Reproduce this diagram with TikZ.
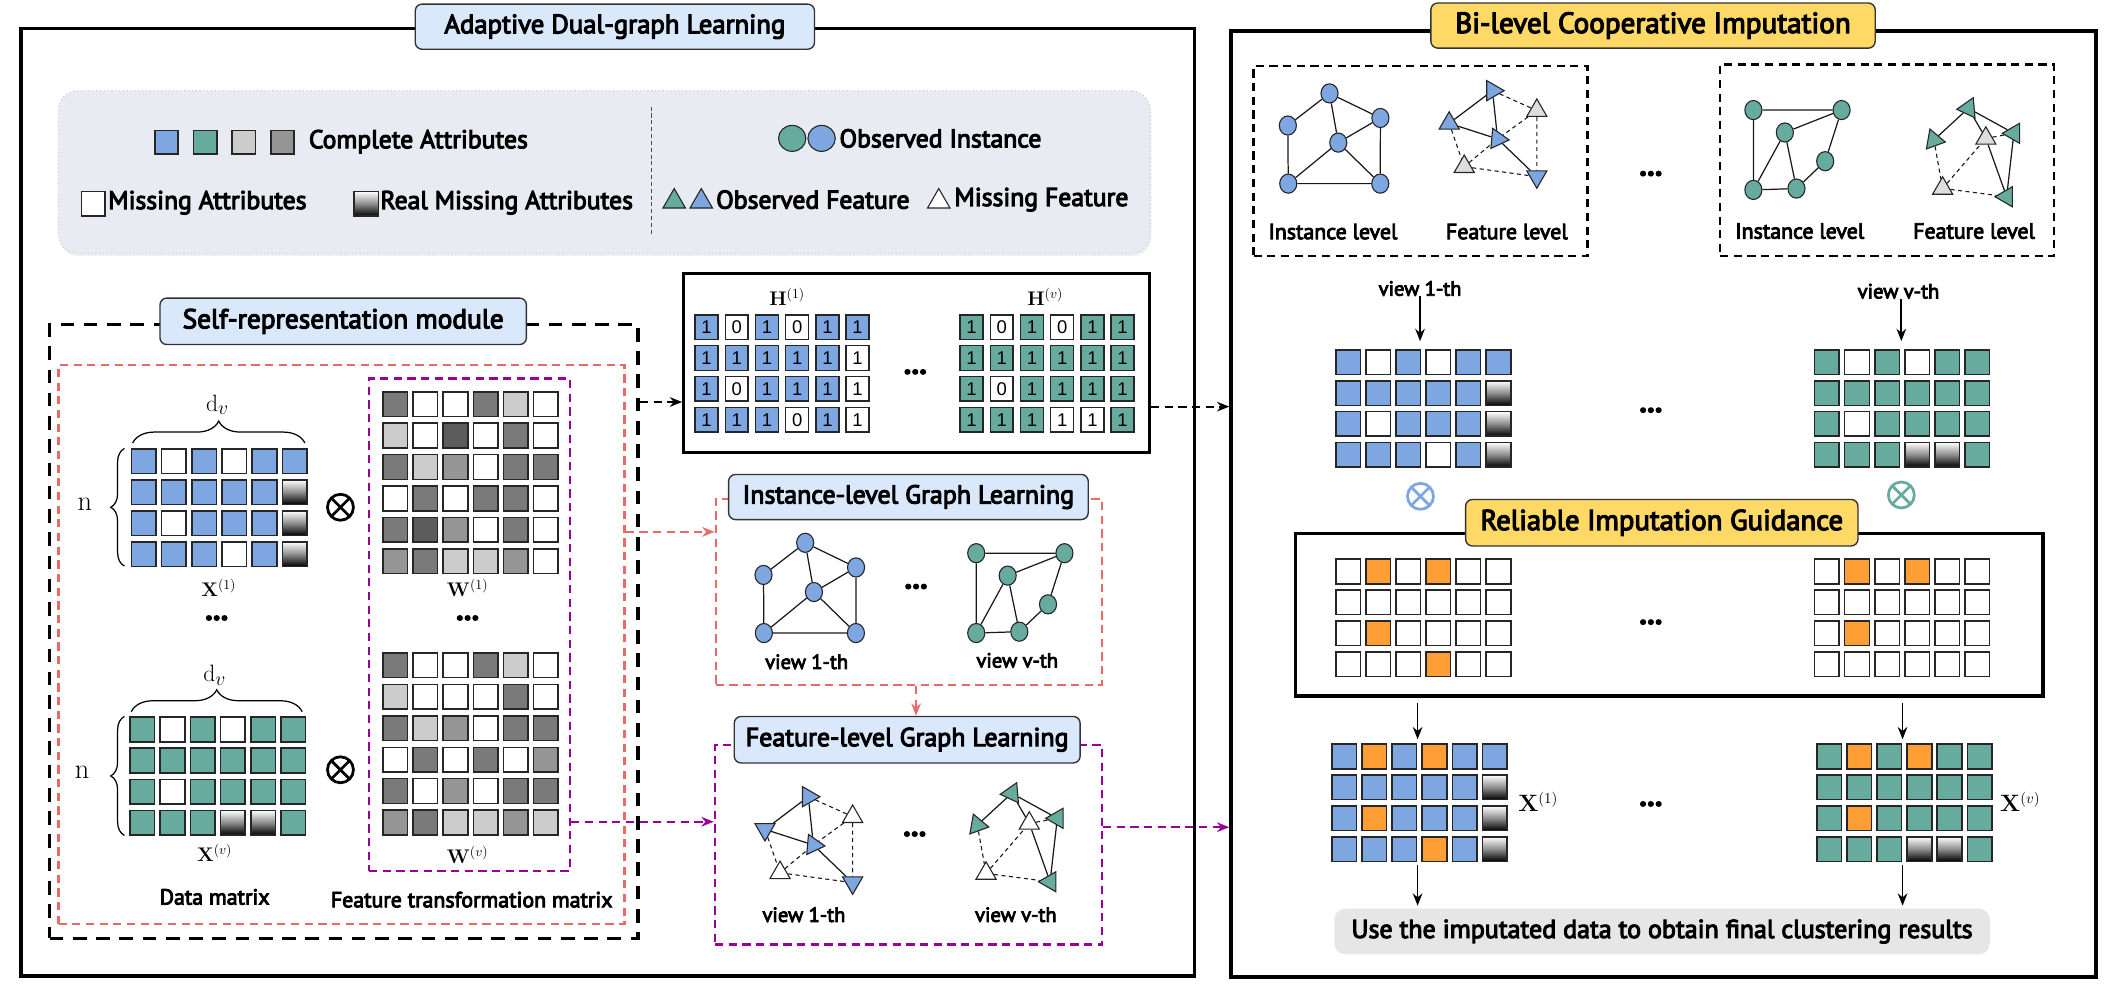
\documentclass[tikz,border=0pt]{standalone}
\usepackage[no-math]{fontspec}
\setmainfont{PT Sans}[FakeBold=4]
\newfontfamily\digitfont{Liberation Sans}
\usetikzlibrary{shapes.geometric,arrows.meta,decorations.pathreplacing,calc,shadows}
\definecolor{cblue}{HTML}{7EA6E0}
\definecolor{cgreen}{HTML}{67AB9F}
\definecolor{clgray}{HTML}{CCCCCC}
\definecolor{cmgray}{HTML}{959595}
\definecolor{cdgray}{HTML}{7A7A7A}
\definecolor{cddgray}{HTML}{5C5C5C}
\definecolor{corange}{HTML}{FF9E35}
\definecolor{ctblue}{HTML}{DAE8FC}
\definecolor{cgold}{HTML}{FFD966}
\definecolor{cred}{HTML}{EA6B66}
\definecolor{cpurple}{HTML}{990099}
\definecolor{clegend}{HTML}{E8ECF2}
\definecolor{clegline}{HTML}{C5CDD8}
\definecolor{cfinal}{HTML}{E6E6E6}
\definecolor{cmiss}{HTML}{DDDDDD}

\newcommand{\drawmat}[6]{%
  \foreach \rowlist [count=\ri from 0] in {#6} {
    \foreach \cc [count=\ki from 0] in \rowlist {
      \node[cell, ctype=\cc] (#1-\ri-\ki) at ({#2+\ki*#4},{#3+\ri*#5}) {};
    }
  }
}
\newcommand{\drawHmat}[4]{%
  \foreach \rowlist [count=\ri from 0] in {#4} {
    \foreach \cc/\vv [count=\ki from 0] in \rowlist {
      \node[hcell, ctype=\cc] (#1-\ri-\ki) at ({#2+\ki*22.1},{#3+\ri*22.6}) {\vv};
    }
  }
}
\newcommand{\instA}[4]{%
  \begin{scope}[shift={(#2,#3)}]
    \node[gnode,fill=#4] (#1a) at (588.9,397) {};
    \node[gnode,fill=#4] (#1b) at (558.4,420.5) {};
    \node[gnode,fill=#4] (#1c) at (626.1,415) {};
    \node[gnode,fill=#4] (#1d) at (595.3,433) {};
    \node[gnode,fill=#4] (#1e) at (558.7,463) {};
    \node[gnode,fill=#4] (#1f) at (626,463) {};
    \draw[gedge] (#1a)--(#1b) (#1a)--(#1c) (#1a)--(#1d) (#1d)--(#1c) (#1b)--(#1e)
      (#1c)--(#1f) (#1d)--(#1e) (#1d)--(#1f) (#1e)--(#1f);
  \end{scope}}
\newcommand{\instB}[4]{%
  \begin{scope}[shift={(#2,#3)}]
    \node[gnode,fill=#4] (#1a) at (714,404.6) {};
    \node[gnode,fill=#4] (#1b) at (778.5,404.6) {};
    \node[gnode,fill=#4] (#1c) at (737,421) {};
    \node[gnode,fill=#4] (#1d) at (766.5,442) {};
    \node[gnode,fill=#4] (#1e) at (714,463) {};
    \node[gnode,fill=#4] (#1f) at (745.5,462) {};
    \draw[gedge] (#1a)--(#1b) (#1a)--(#1e) (#1c)--(#1b) (#1c)--(#1e) (#1c)--(#1f)
      (#1e)--(#1f) (#1f)--(#1d) (#1d)--(#1b);
  \end{scope}}
\newcommand{\featA}[6]{%
  \begin{scope}[shift={(#2,#3)}]
    \node[tri,fill=#4,rotate=-90] (#1a) at (591.2,582.7) {};
    \node[tri,fill=#5] (#1b) at (623.6,597.3) {};
    \node[tri,fill=#4,rotate=#6] (#1c) at (559.5,606.6) {};
    \node[tri,fill=#4,rotate=-95] (#1d) at (594.9,618) {};
    \node[tri,fill=#5] (#1e) at (570.5,638.3) {};
    \node[tri,fill=#4,rotate=180] (#1f) at (623.6,645.6) {};
    \draw[gedge] (#1a)--(#1c) (#1a)--(#1d) (#1c)--(#1d) (#1d)--(#1f);
    \draw[gdash] (#1a)--(#1b) (#1b)--(#1d) (#1b)--(#1f) (#1c)--(#1e) (#1e)--(#1d) (#1e)--(#1f);
  \end{scope}}
\newcommand{\featB}[5]{%
  \begin{scope}[shift={(#2,#3)}]
    \node[tri,fill=#4,rotate=95] (#1a) at (740,580.2) {};
    \node[tri,fill=#4,rotate=-100] (#1b) at (714.8,603.4) {};
    \node[tri,fill=#5] (#1c) at (752.8,602.2) {};
    \node[tri,fill=#4,rotate=90] (#1d) at (773.3,598.5) {};
    \node[tri,fill=#5] (#1e) at (721.2,638.8) {};
    \node[tri,fill=#4,rotate=90] (#1f) at (768,644.9) {};
    \draw[gedge] (#1a)--(#1b) (#1a)--(#1d) (#1a)--(#1c) (#1c)--(#1f) (#1d)--(#1f);
    \draw[gdash] (#1b)--(#1e) (#1e)--(#1c) (#1c)--(#1d) (#1e)--(#1f);
  \end{scope}}

\begin{document}
\begin{tikzpicture}[x=1pt,y=-1pt,
  cell/.style={draw=black!85, line width=1.1pt, minimum width=18pt, minimum height=18pt, inner sep=0pt, anchor=north west},
  hcell/.style={draw=black!85, line width=1.1pt, minimum width=16.8pt, minimum height=18pt, inner sep=0pt, anchor=north west, font=\digitfont\fontsize{13.5}{13.5}\selectfont},
  ctype/.code={\edef\cellsty{cs#1}\expandafter\pgfkeysalso\expandafter{\cellsty}},
  csB/.style={fill=cblue}, csT/.style={fill=cgreen}, csW/.style={fill=white},
  csO/.style={fill=corange}, csG/.style={top color=white, bottom color=black, middle color=black!45},
  csD/.style={fill=cdgray}, csE/.style={fill=cddgray}, csM/.style={fill=cmgray}, csL/.style={fill=clgray},
  gnode/.style={ellipse, draw=black!85, line width=0.8pt, minimum width=12.5pt, minimum height=14pt, inner sep=0pt},
  tri/.style={regular polygon, regular polygon sides=3, draw=black!85, line width=0.8pt, minimum size=17pt, inner sep=0pt},
  gedge/.style={line width=0.9pt, black!90},
  gdash/.style={line width=0.8pt, black!90, dash pattern=on 3pt off 2.5pt},
  outerbox/.style={draw=black, line width=2.6pt, anchor=north west, inner sep=0pt},
  blkdash/.style={draw=black, line width=2.6pt, dash pattern=on 10pt off 7pt, anchor=north west, inner sep=0pt},
  reddash/.style={draw=cred, line width=1.6pt, dash pattern=on 6pt off 4pt, anchor=north west, inner sep=0pt},
  purpdash/.style={draw=cpurple, line width=1.8pt, dash pattern=on 6pt off 4pt, anchor=north west, inner sep=0pt},
  thindash/.style={draw=black, line width=1.8pt, dash pattern=on 6pt off 4pt, anchor=north west, inner sep=0pt},
  titleb/.style={draw=black!80, line width=1pt, rounded corners=5pt, fill=ctblue, inner sep=0pt, font=\fontsize{20}{24}\selectfont},
  titleg/.style={draw=black!80, line width=1pt, rounded corners=5pt, fill=cgold, inner sep=0pt, font=\fontsize{20}{24}\selectfont},
  lab/.style={inner sep=0pt, font=\fontsize{15}{18}\selectfont},
  leg/.style={inner sep=0pt, anchor=west, font=\fontsize{18.8}{22}\selectfont},
  dots/.style={inner sep=0pt, font=\fontsize{22}{22}\selectfont\bfseries},
  otimes/.style={circle, draw=#1, line width=2pt, minimum size=19pt, inner sep=0pt,
    path picture={\draw[#1, line width=2pt] (path picture bounding box.north west) -- (path picture bounding box.south east)
      (path picture bounding box.north east) -- (path picture bounding box.south west);}},
  otimes/.default=black,
  darr/.style={-{Stealth[length=9pt,width=7pt]}, line width=1.5pt, dash pattern=on 6pt off 4pt},
  sarr/.style={-{Stealth[length=9pt,width=7pt]}, line width=1.3pt}
]
\useasboundingbox (0,0) rectangle (1552,720);

% ================= LEFT PANEL =================
\node[outerbox, minimum width=858.3pt, minimum height=693pt] (leftbox) at (14,19.5) {};
\node[titleb, minimum width=292pt, minimum height=33pt, font=\fontsize{19.5}{24}\selectfont] (t-adl) at (449.7,19.5) {Adaptive Dual-graph Learning};

% legend
\node[draw=clegline, fill=clegend, line width=0.8pt, dotted, rounded corners=14pt, minimum width=798.4pt, minimum height=119pt, anchor=north west, inner sep=0pt,
  drop shadow={opacity=0.12, shadow xshift=1pt, shadow yshift=-2pt}] (legend) at (42.3,66) {};
\draw[black!70, line width=0.6pt, dash pattern=on 3pt off 2pt] (476.7,78) -- (476.7,172);
\node[cell, ctype=B, minimum width=17pt, minimum height=17pt] (lg-b) at (112.8,95) {};
\node[cell, ctype=T, minimum width=17pt, minimum height=17pt] (lg-t) at (141,95) {};
\node[cell, ctype=L, minimum width=17pt, minimum height=17pt] (lg-l) at (169.3,95) {};
\node[cell, ctype=M, minimum width=17pt, minimum height=17pt] (lg-d) at (197.5,95) {};
\node[leg] (lg-ca) at (225.7,103.6) {Complete Attributes};
\node[cell, ctype=W, minimum width=17pt, minimum height=18pt] (lg-w) at (59.2,139.5) {};
\node[leg] (lg-ma) at (79,148.2) {Missing Attributes};
\node[cell, ctype=G, minimum width=18pt, minimum height=18pt] (lg-g) at (258.4,139.5) {};
\node[leg] (lg-rma) at (278.1,148.2) {Real Missing Attributes};
\node[gnode, fill=cgreen, minimum width=20pt, minimum height=19pt] (lg-cg) at (579.4,101.2) {};
\node[gnode, fill=cblue, minimum width=20pt, minimum height=19pt] (lg-cb) at (600.9,101.2) {};
\node[leg] (lg-oi) at (613.8,101.2) {Observed Instance};
\node[tri, fill=cgreen, minimum size=19pt] (lg-tg) at (493.1,147.4) {};
\node[tri, fill=cblue, minimum size=19pt] (lg-tb) at (512.9,147.4) {};
\node[leg] (lg-of) at (523.6,146) {Observed Feature};
\node[tri, fill=white, minimum size=19pt] (lg-tw) at (686.6,147.4) {};
\node[leg] (lg-mf) at (697.9,146) {Missing Feature};

% self-representation module
\node[blkdash, minimum width=430.5pt, minimum height=449pt] (srm) at (35,236) {};
\node[reddash, minimum width=414pt, minimum height=409pt] (redbox) at (42,266) {};
\node[purpdash, minimum width=147pt, minimum height=360pt] (wbox) at (269,276) {};
\node[titleb, minimum width=268pt, minimum height=34pt] (t-srm) at (251,235) {Self-representation module};

\drawmat{x1}{95.5}{327.7}{22.1}{22.7}{{B,W,B,W,B,B},{B,B,B,B,B,G},{B,W,B,B,B,G},{B,B,B,W,B,G}}
\drawmat{xv}{94.5}{524}{22.1}{22.7}{{T,W,T,W,T,T},{T,T,T,T,T,T},{T,W,T,T,T,T},{T,T,T,G,G,T}}
\drawmat{w1}{279.6}{286}{22}{23}{{D,W,W,D,L,W},{L,W,E,W,D,W},{D,L,M,W,D,D},{W,D,W,D,D,W},{D,E,M,W,D,W},{M,D,L,L,M,W}}
\drawmat{wv}{279.6}{477}{22}{23}{{D,W,W,D,L,W},{L,W,W,W,D,W},{D,L,M,W,D,D},{W,D,W,D,W,M},{D,W,M,W,D,D},{M,D,L,L,M,L}}

\draw[line width=0.9pt, decorate, decoration={brace, amplitude=16pt}] (97,324) -- (223,324);
\node[inner sep=0pt, font=\fontsize{19}{19}\selectfont] (dv1) at (159,296) {$\mathrm{d}_v$};
\draw[line width=0.9pt, decorate, decoration={brace, amplitude=10pt}] (91,414) -- (91,328);
\node[inner sep=0pt, font=\fontsize{20}{20}\selectfont] (n1) at (62,369) {$\mathrm{n}$};
\draw[line width=0.9pt, decorate, decoration={brace, amplitude=16pt}] (96,520.5) -- (221,520.5);
\node[inner sep=0pt, font=\fontsize{19}{19}\selectfont] (dvv) at (157,494) {$\mathrm{d}_v$};
\draw[line width=0.9pt, decorate, decoration={brace, amplitude=10pt}] (91,611) -- (91,524);
\node[inner sep=0pt, font=\fontsize{20}{20}\selectfont] (nv) at (60,565) {$\mathrm{n}$};

\node[otimes] (ot1) at (249,371) {};
\node[otimes] (otv) at (249,563) {};

\node[inner sep=0pt, font=\fontsize{14}{14}\selectfont] (lx1) at (160,430) {$\mathbf{X}^{(1)}$};
\node[inner sep=0pt, font=\fontsize{14}{14}\selectfont] (lw1) at (342,430) {$\mathbf{W}^{(1)}$};
\node[dots] (dx) at (158.5,452) {...};
\node[dots] (dw) at (342,452) {...};
\node[inner sep=0pt, font=\fontsize{14}{14}\selectfont] (lxv) at (157,624) {$\mathbf{X}^{(v)}$};
\node[inner sep=0pt, font=\fontsize{14}{14}\selectfont] (lwv) at (342,625) {$\mathbf{W}^{(v)}$};
\node[lab, font=\fontsize{16}{18}\selectfont] (ldm) at (157,656) {Data matrix};
\node[lab, font=\fontsize{16}{18}\selectfont] (lftm) at (345,658) {Feature transformation matrix};

% H box
\node[draw=black, line width=2pt, minimum width=341pt, minimum height=131pt, anchor=north west, inner sep=0pt] (hbox) at (498.9,199) {};
\node[inner sep=0pt, font=\fontsize{14.5}{14.5}\selectfont] (lh1) at (575.7,217) {$\mathbf{H}^{(1)}$};
\node[inner sep=0pt, font=\fontsize{14.5}{14.5}\selectfont] (lhv) at (764.5,217) {$\mathbf{H}^{(v)}$};
\drawHmat{h1}{507.8}{229.7}{{B/1,W/0,B/1,W/0,B/1,B/1},{B/1,B/1,B/1,B/1,B/1,W/1},{B/1,W/0,B/1,B/1,B/1,W/1},{B/1,B/1,B/1,W/0,B/1,W/1}}
\drawHmat{hv}{701.6}{229.7}{{T/1,W/0,T/1,W/0,T/1,T/1},{T/1,T/1,T/1,T/1,T/1,T/1},{T/1,W/0,T/1,T/1,T/1,T/1},{T/1,T/1,T/1,W/1,W/1,T/1}}
\node[dots] (dh) at (669.4,272) {...};

% instance-level graph learning
\node[reddash, minimum width=282.4pt, minimum height=136pt] (instbox) at (522.6,364) {};
\node[titleb, minimum width=263pt, minimum height=33pt, font=\fontsize{19}{22}\selectfont] (t-inst) at (664.4,363.5) {Instance-level Graph Learning};
\instA{ia}{0}{0}{cblue}
\instB{ib}{0}{0}{cgreen}
\node[dots] (di) at (670,429) {...};
\node[lab] (li1) at (590,484) {view 1-th};
\node[lab] (liv) at (744,483) {view v-th};

% feature-level graph learning
\node[purpdash, minimum width=283pt, minimum height=146pt] (featbox) at (522,544) {};
\node[titleb, minimum width=253pt, minimum height=34pt, font=\fontsize{19}{22}\selectfont] (t-feat) at (663.5,541) {Feature-level Graph Learning};
\featA{fa}{0}{0}{cblue}{white}{180}
\featB{fb}{0}{0}{cgreen}{white}
\node[dots] (df) at (669,610) {...};
\node[lab] (lf1) at (588,669) {view 1-th};
\node[lab] (lfv) at (743,669) {view v-th};

% ================= RIGHT PANEL =================
\node[outerbox, minimum width=632.7pt, minimum height=691.7pt] (rightbox) at (899.1,21.5) {};
\node[titleg, minimum width=325pt, minimum height=33pt, font=\fontsize{21.3}{24}\selectfont] (t-bci) at (1209,18.7) {Bi-level Cooperative Imputation};

\node[thindash, minimum width=244.3pt, minimum height=139pt] (vb1) at (915.9,47.5) {};
\node[thindash, minimum width=244.3pt, minimum height=140.2pt] (vb2) at (1257.1,46.3) {};
\instA{ra}{383.5}{-328.7}{cblue}
\featA{rf}{500.4}{-516.4}{cblue}{cmiss}{0}
\instB{rb}{568.4}{-324.1}{cgreen}
\featB{rg}{699.6}{-501}{cgreen}{cmiss}
\node[lab, font=\fontsize{16}{18}\selectfont] (lil1) at (974.9,169.4) {Instance level};
\node[lab, font=\fontsize{16}{18}\selectfont] (lfl1) at (1102.1,169.4) {Feature level};
\node[lab, font=\fontsize{16}{18}\selectfont] (lil2) at (1316.3,169) {Instance level};
\node[lab, font=\fontsize{16}{18}\selectfont] (lfl2) at (1443.8,169) {Feature level};
\node[dots] (dr1) at (1207.4,127) {...};

\node[lab] (rv1) at (1038.6,211) {view 1-th};
\node[lab] (rvv) at (1388.5,213) {view v-th};
\drawmat{rm1}{976.4}{255.5}{22}{22.5}{{B,W,B,W,B,B},{B,B,B,B,B,G},{B,W,B,B,B,G},{B,B,B,W,B,G}}
\drawmat{rmv}{1326.6}{255.5}{22}{22.5}{{T,W,T,W,T,T},{T,T,T,T,T,T},{T,W,T,T,T,T},{T,T,T,G,G,T}}
\node[dots] (dr2) at (1207.4,300) {...};
\coordinate (c1) at (1038.6,0);
\coordinate (c2) at (1390.6,0);
\draw[sarr, shorten >=6pt] (rv1.south -| c1) -- (rm1-0-0.north -| c1);
\draw[sarr, shorten >=6pt] (rvv.south -| c2) -- (rmv-0-0.north -| c2);

\node[otimes=cblue] (ot-b) at (1038.9,363) {};
\node[otimes=cgreen] (ot-g) at (1390.6,362) {};

\node[draw=black, line width=2.6pt, minimum width=546.7pt, minimum height=118.7pt, anchor=north west, inner sep=0pt] (guide) at (946.3,388.9) {};
\node[titleg, minimum width=287pt, minimum height=34pt, font=\fontsize{21}{24}\selectfont] (t-rig) at (1215.4,382.3) {Reliable Imputation Guidance};
\drawmat{g1}{976.4}{408.4}{22}{22.6}{{W,O,W,O,W,W},{W,W,W,W,W,W},{W,O,W,W,W,W},{W,W,W,O,W,W}}
\drawmat{gv}{1326.6}{408.4}{22}{22.6}{{W,O,W,O,W,W},{W,W,W,W,W,W},{W,O,W,W,W,W},{W,W,W,W,W,W}}
\node[dots] (dr3) at (1207.4,455) {...};

\drawmat{fm1}{973.6}{543.7}{22}{22.6}{{B,O,B,O,B,B},{B,B,B,B,B,G},{B,O,B,B,B,G},{B,B,B,O,B,G}}
\drawmat{fmv}{1328.3}{543.7}{22}{22.6}{{T,O,T,O,T,T},{T,T,T,T,T,T},{T,O,T,T,T,T},{T,T,T,G,G,T}}
\node[inner sep=0pt, font=\fontsize{16}{16}\selectfont] (lfx1) at (1125,586.4) {$\mathbf{X}^{(1)}$};
\node[inner sep=0pt, font=\fontsize{16}{16}\selectfont] (lfxv) at (1477.6,586.4) {$\mathbf{X}^{(v)}$};
\node[dots] (dr4) at (1207.4,588) {...};

\node[fill=cfinal, rounded corners=8pt, minimum width=479.4pt, minimum height=33.4pt, anchor=north west, inner sep=0pt] (final) at (975.7,664.4) {};
\node[inner sep=0pt, font=\fontsize{19}{20}\selectfont] (finaltxt) at (final.center) {Use the imputated data to obtain final clustering results};

\coordinate (c3) at (1036.8,0);
\coordinate (c4) at (1391.5,0);
\draw[sarr, shorten <=4pt, shorten >=3pt] (guide.south -| c3) -- (fm1-0-0.north -| c3);
\draw[sarr, shorten <=4pt, shorten >=3pt] (guide.south -| c4) -- (fmv-0-0.north -| c4);
\draw[sarr, shorten <=2pt, shorten >=2pt] (fm1-3-0.south -| c3) -- (final.north -| c3);
\draw[sarr, shorten <=2pt, shorten >=2pt] (fmv-3-0.south -| c4) -- (final.north -| c4);

% ================= CONNECTORS =================
\draw[darr, black] (srm.east |- 0,294) -- (hbox.west |- 0,294);
\draw[darr, black] (hbox.east |- 0,297.4) -- (rightbox.west |- 0,297.4);
\draw[darr, cred] (redbox.east |- 0,389) -- (instbox.west |- 0,389);
\draw[darr, cred] (instbox.south -| 670,0) -- (t-feat.north -| 670,0);
\draw[darr, cpurple] (wbox.east |- 0,601) -- (featbox.west |- 0,601);
\draw[darr, cpurple] (featbox.east |- 0,605) -- (rightbox.west |- 0,605);
\end{tikzpicture}
\end{document}
